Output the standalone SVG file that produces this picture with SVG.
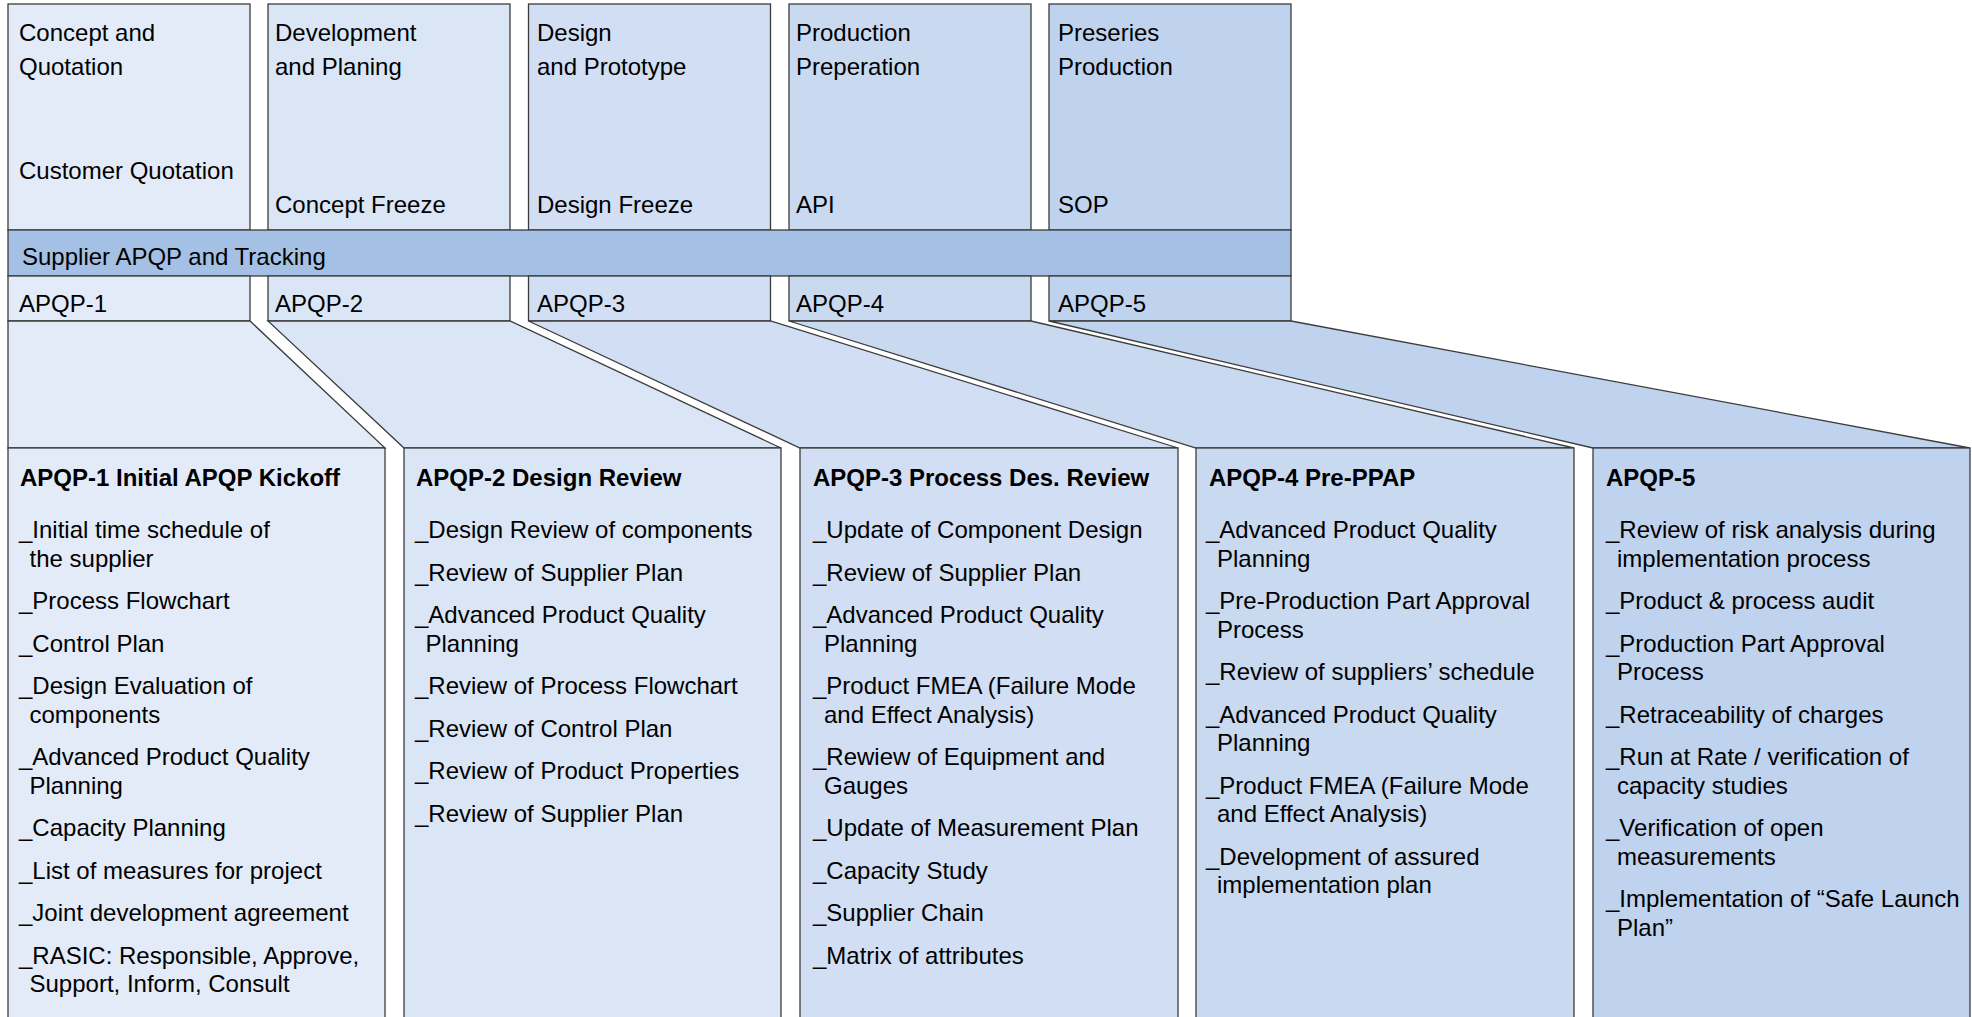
<svg xmlns="http://www.w3.org/2000/svg" width="1972" height="1017" viewBox="0 0 1972 1017">
<style>
.t{font-family:"Liberation Sans",Arial,sans-serif;font-size:24px;fill:#000}
.b{font-weight:bold}
.s{stroke:#3c3c3c;stroke-width:1.3}
.c1{fill:#e3ebf8}
.c2{fill:#dae5f6}
.c3{fill:#d1def3}
.c4{fill:#c8d9f0}
.c5{fill:#bfd2ee}
.band{fill:#a4c0e4}
</style>
<rect width="1972" height="1017" fill="#fff"/>
<g id="phase1">
<rect class="c1 s" x="8" y="4" width="242" height="226"/>
<text class="t" x="19" y="41">Concept and</text>
<text class="t" x="19" y="75">Quotation</text>
<text class="t" x="19" y="179">Customer Quotation</text>
</g>
<g id="phase2">
<rect class="c2 s" x="268" y="4" width="242" height="226"/>
<text class="t" x="275" y="41">Development</text>
<text class="t" x="275" y="75">and Planing</text>
<text class="t" x="275" y="213">Concept Freeze</text>
</g>
<g id="phase3">
<rect class="c3 s" x="528.5" y="4" width="242" height="226"/>
<text class="t" x="537" y="41">Design</text>
<text class="t" x="537" y="75">and Prototype</text>
<text class="t" x="537" y="213">Design Freeze</text>
</g>
<g id="phase4">
<rect class="c4 s" x="789" y="4" width="242" height="226"/>
<text class="t" x="796" y="41">Production</text>
<text class="t" x="796" y="75">Preperation</text>
<text class="t" x="796" y="213">API</text>
</g>
<g id="phase5">
<rect class="c5 s" x="1049" y="4" width="242" height="226"/>
<text class="t" x="1058" y="41">Preseries</text>
<text class="t" x="1058" y="75">Production</text>
<text class="t" x="1058" y="213">SOP</text>
</g>
<g id="band">
<rect class="band s" x="8" y="230" width="1283" height="46"/>
<text class="t" x="22" y="265">Supplier APQP and Tracking</text>
</g>
<g id="apqp1-label">
<rect class="c1 s" x="8" y="276" width="242" height="45"/>
<text class="t" x="19" y="311.5">APQP-1</text>
</g>
<g id="apqp2-label">
<rect class="c2 s" x="268" y="276" width="242" height="45"/>
<text class="t" x="275" y="311.5">APQP-2</text>
</g>
<g id="apqp3-label">
<rect class="c3 s" x="528.5" y="276" width="242" height="45"/>
<text class="t" x="537" y="311.5">APQP-3</text>
</g>
<g id="apqp4-label">
<rect class="c4 s" x="789" y="276" width="242" height="45"/>
<text class="t" x="796" y="311.5">APQP-4</text>
</g>
<g id="apqp5-label">
<rect class="c5 s" x="1049" y="276" width="242" height="45"/>
<text class="t" x="1058" y="311.5">APQP-5</text>
</g>
<g id="connectors">
<polygon class="c1 s" points="8,321 250,321 385,448 8,448"/>
<polygon class="c2 s" points="268,321 510,321 781,448 404,448"/>
<polygon class="c3 s" points="528.5,321 770.5,321 1178,448 800,448"/>
<polygon class="c4 s" points="789,321 1031,321 1574,448 1196,448"/>
<polygon class="c5 s" points="1049,321 1291,321 1970,448 1593,448"/>
</g>
<g id="apqp1">
<rect class="c1 s" x="8" y="448" width="377" height="580"/>
<text class="t b" x="20" y="486">APQP-1 Initial APQP Kickoff</text>
<text class="t">
<tspan x="19" y="538">_Initial time schedule of</tspan>
<tspan x="29.5" y="566.5">the supplier</tspan>
<tspan x="19" y="609">_Process Flowchart</tspan>
<tspan x="19" y="651.5">_Control Plan</tspan>
<tspan x="19" y="694">_Design Evaluation of</tspan>
<tspan x="29.5" y="722.5">components</tspan>
<tspan x="19" y="765">_Advanced Product Quality</tspan>
<tspan x="29.5" y="793.5">Planning</tspan>
<tspan x="19" y="836">_Capacity Planning</tspan>
<tspan x="19" y="878.5">_List of measures for project</tspan>
<tspan x="19" y="921">_Joint development agreement</tspan>
<tspan x="19" y="963.5">_RASIC: Responsible, Approve,</tspan>
<tspan x="29.5" y="992">Support, Inform, Consult</tspan>
</text>
</g>
<g id="apqp2">
<rect class="c2 s" x="404" y="448" width="377" height="580"/>
<text class="t b" x="416" y="486">APQP-2 Design Review</text>
<text class="t">
<tspan x="415" y="538">_Design Review of components</tspan>
<tspan x="415" y="580.5">_Review of Supplier Plan</tspan>
<tspan x="415" y="623">_Advanced Product Quality</tspan>
<tspan x="425.5" y="651.5">Planning</tspan>
<tspan x="415" y="694">_Review of Process Flowchart</tspan>
<tspan x="415" y="736.5">_Review of Control Plan</tspan>
<tspan x="415" y="779">_Review of Product Properties</tspan>
<tspan x="415" y="821.5">_Review of Supplier Plan</tspan>
</text>
</g>
<g id="apqp3">
<rect class="c3 s" x="800" y="448" width="378" height="580"/>
<text class="t b" x="813" y="486">APQP-3 Process Des. Review</text>
<text class="t">
<tspan x="813" y="538">_Update of Component Design</tspan>
<tspan x="813" y="580.5">_Review of Supplier Plan</tspan>
<tspan x="813" y="623">_Advanced Product Quality</tspan>
<tspan x="824" y="651.5">Planning</tspan>
<tspan x="813" y="694">_Product FMEA (Failure Mode</tspan>
<tspan x="824" y="722.5">and Effect Analysis)</tspan>
<tspan x="813" y="765">_Rewiew of Equipment and</tspan>
<tspan x="824" y="793.5">Gauges</tspan>
<tspan x="813" y="836">_Update of Measurement Plan</tspan>
<tspan x="813" y="878.5">_Capacity Study</tspan>
<tspan x="813" y="921">_Supplier Chain</tspan>
<tspan x="813" y="963.5">_Matrix of attributes</tspan>
</text>
</g>
<g id="apqp4">
<rect class="c4 s" x="1196" y="448" width="378" height="580"/>
<text class="t b" x="1209" y="486">APQP-4 Pre-PPAP</text>
<text class="t">
<tspan x="1206" y="538">_Advanced Product Quality</tspan>
<tspan x="1217" y="566.5">Planning</tspan>
<tspan x="1206" y="609">_Pre-Production Part Approval</tspan>
<tspan x="1217" y="637.5">Process</tspan>
<tspan x="1206" y="680">_Review of suppliers’ schedule</tspan>
<tspan x="1206" y="722.5">_Advanced Product Quality</tspan>
<tspan x="1217" y="751">Planning</tspan>
<tspan x="1206" y="793.5">_Product FMEA (Failure Mode</tspan>
<tspan x="1217" y="822">and Effect Analysis)</tspan>
<tspan x="1206" y="864.5">_Development of assured</tspan>
<tspan x="1217" y="893">implementation plan</tspan>
</text>
</g>
<g id="apqp5">
<rect class="c5 s" x="1593" y="448" width="377" height="580"/>
<text class="t b" x="1606" y="486">APQP-5</text>
<text class="t">
<tspan x="1606" y="538">_Review of risk analysis during</tspan>
<tspan x="1617" y="566.5">implementation process</tspan>
<tspan x="1606" y="609">_Product &amp; process audit</tspan>
<tspan x="1606" y="651.5">_Production Part Approval</tspan>
<tspan x="1617" y="680">Process</tspan>
<tspan x="1606" y="722.5">_Retraceability of charges</tspan>
<tspan x="1606" y="765">_Run at Rate / verification of</tspan>
<tspan x="1617" y="793.5">capacity studies</tspan>
<tspan x="1606" y="836">_Verification of open</tspan>
<tspan x="1617" y="864.5">measurements</tspan>
<tspan x="1606" y="907">_Implementation of “Safe Launch</tspan>
<tspan x="1617" y="935.5">Plan”</tspan>
</text>
</g>
</svg>
